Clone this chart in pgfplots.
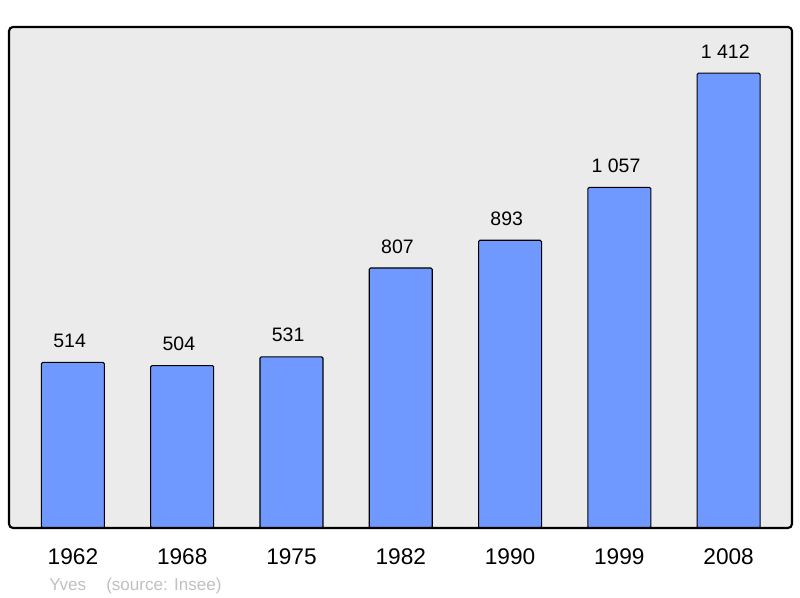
\documentclass[border=0pt]{standalone}
\usepackage{fontspec}
\setmainfont{Liberation Sans}
\usepackage{pgfplots}
\pgfplotsset{compat=1.18}

\definecolor{barblue}{HTML}{7099FF}
\definecolor{panel}{HTML}{EBEBEB}
\definecolor{footgray}{HTML}{C0C0C0}

\begin{document}
\begin{tikzpicture}
% 1 px of the 800x598 reference = 0.75pt
\path[use as bounding box] (0,0) rectangle (600pt,448.5pt);
\begin{axis}[
    at={(6.75pt,52.5pt)}, anchor=south west,
    scale only axis,
    width=587.25pt, height=375.75pt,
    ybar, bar width=47.25pt,
    xmin=-0.585, xmax=6.58,
    ymin=0, ymax=1555,
    axis background/.style={fill=panel},
    hide y axis,
    axis x line*=bottom,
    x axis line style={draw=none},
    xtick=data,
    xticklabels={1962,1968,1975,1982,1990,1999,2008},
    major tick length=0pt,
    xticklabel style={anchor=base, yshift=-27.5pt, font=\fontsize{17}{20}\selectfont},
    nodes near coords={\pgfmathprintnumber[1000 sep={\ }, assume math mode=true]{\pgfplotspointmeta}},
    every node near coord/.append style={anchor=base, yshift=11.2pt, xshift=-2.5pt, font=\fontsize{14.6}{17}\selectfont},
    clip=false,
]
\addplot[fill=barblue, draw=black, line width=0.8pt, rounded corners=1pt]
    coordinates {(0,514) (1,504) (2,531) (3,807) (4,893) (5,1057) (6,1412)};
\draw[line width=1.6pt, rounded corners=3pt] (rel axis cs:0,0) rectangle (rel axis cs:1,1);
\end{axis}
\node[anchor=base west, text=footgray, font=\fontsize{12.8}{15}\selectfont, inner sep=0pt] at (36.75pt,5.5pt) {Yves};
\node[anchor=base west, text=footgray, font=\fontsize{12.8}{15}\selectfont, inner sep=0pt] at (79.5pt,5.5pt) {(source: Insee)};
\end{tikzpicture}
\end{document}
